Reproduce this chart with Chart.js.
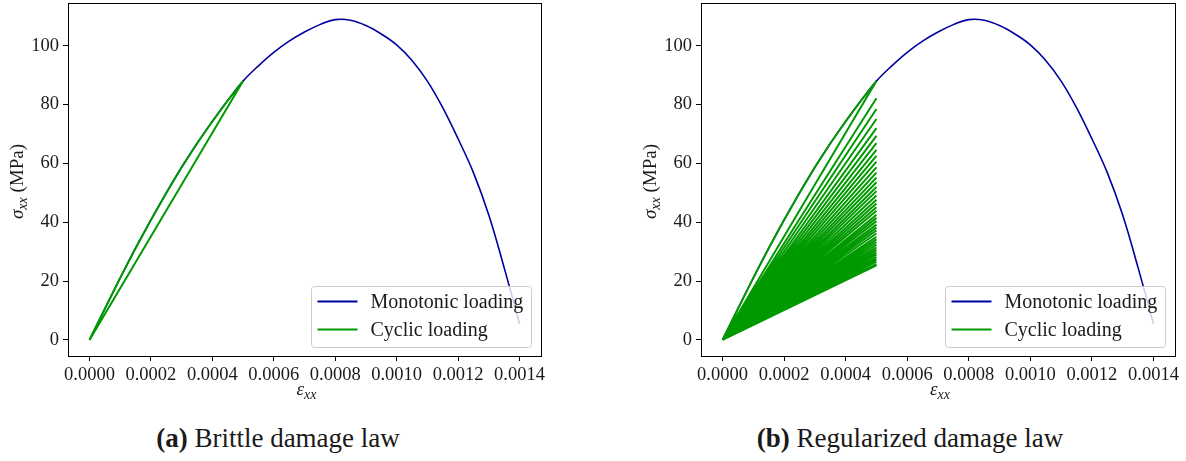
<!DOCTYPE html>
<html>
<head>
<meta charset="utf-8">
<script src="https://cdn.jsdelivr.net/npm/chart.js@4.4.1/dist/chart.umd.min.js"></script>
<style>
  body { margin: 0; background: #fff; width: 1186px; height: 461px; position: relative; overflow: hidden; font-family: "Liberation Serif", serif; }
  .panel { position: absolute; top: 0; }
  .cap { position: absolute; top: 425px; font-size: 27px; line-height: 1; color: #1a1a1a; white-space: nowrap; transform: translateX(-50%); }
</style>
</head>
<body>
<div class="panel" style="left:0px"><canvas id="chart-a" width="560" height="410"></canvas></div>
<div class="panel" style="left:630px"><canvas id="chart-b" width="556" height="410"></canvas></div>
<div class="cap" style="left:278px"><b>(a)</b> Brittle damage law</div>
<div class="cap" style="left:910px"><b>(b)</b> Regularized damage law</div>

<script>
  // Courbe monotone (deformation / contrainte en MPa)
  const strain = [0, 0.00005, 0.0001, 0.00015, 0.0002, 0.00025, 0.0003, 0.00035, 0.0004, 0.00045,
    0.0005, 0.00055, 0.0006, 0.00065, 0.0007, 0.00075, 0.0008, 0.00085, 0.0009, 0.00095,
    0.001, 0.00105, 0.0011, 0.00115, 0.0012, 0.00125, 0.0013, 0.00135, 0.0014];
  const stressMono = [0, 10.6, 21.1, 31.2, 40.8, 50.0, 58.7, 66.8, 74.3, 81.4,
    88.0, 93.2, 97.8, 101.6, 104.7, 107.2, 108.9, 108.7, 106.9, 104.0,
    100.3, 95.0, 88.0, 79.0, 68.4, 56.9, 42.5, 24.6, 5.5];

  // Cycles : deformation max et contraintes atteintes a chaque cycle
  const unloadStrain = 0.0005;
  const peaksBrittle = [88.0, 88.0, 88.0, 88.0];
  const peaksRegular = [82.2, 78.5, 75.1, 72.0, 69.4, 66.9, 64.6, 62.6, 60.6, 58.7,
    56.9, 55.2, 53.6, 52.0, 50.6, 49.1, 47.7, 46.4, 45.1, 43.9,
    42.6, 41.5, 40.4, 39.2, 38.2, 37.2, 36.2, 35.1, 34.2, 33.3,
    32.4, 31.5, 30.6, 29.8, 29.0, 28.2, 27.4, 26.6, 25.8, 25.4];

  const xTicks = [0, 0.0002, 0.0004, 0.0006, 0.0008, 0.001, 0.0012, 0.0014];
  const yTicks = [0, 20, 40, 60, 80, 100];
  const seriesNames = ['Monotonic loading', 'Cyclic loading'];

  const BLUE = '#0000a0';
  const GREEN = '#009900';
  const SERIF = "'Liberation Serif', 'DejaVu Serif', serif";

  function cyclicPath(peaks) {
    const pts = [];
    for (let i = 0; i < strain.length && strain[i] <= unloadStrain + 1e-12; i++) {
      pts.push({ x: strain[i], y: stressMono[i] });
    }
    for (const p of peaks) {
      pts.push({ x: 0, y: 0 });
      pts.push({ x: unloadStrain, y: p });
    }
    pts.push({ x: 0, y: 0 });
    return pts;
  }

  // legende, cadre et titres des axes
  const decor = {
    id: 'decor',
    afterDatasetsDraw(chart) {
      const ctx = chart.ctx, a = chart.chartArea;
      const w = 220, h = 61;
      const x0 = Math.round(a.right - 10 - w) + 0.5, y0 = Math.round(a.bottom - 9 - h) + 0.5;
      ctx.save();
      ctx.beginPath();
      ctx.roundRect(x0, y0, w, h, 3);
      ctx.fillStyle = 'rgba(255,255,255,0.8)';
      ctx.fill();
      ctx.strokeStyle = '#cccccc';
      ctx.lineWidth = 1;
      ctx.stroke();
      const rows = [[seriesNames[0], BLUE, y0 + 15], [seriesNames[1], GREEN, y0 + 43]];
      ctx.font = '20px ' + SERIF;
      ctx.textBaseline = 'middle';
      for (const [label, col, y] of rows) {
        ctx.beginPath();
        ctx.moveTo(x0 + 6, y);
        ctx.lineTo(x0 + 46, y);
        ctx.strokeStyle = col;
        ctx.lineWidth = 1.8;
        ctx.stroke();
        ctx.fillStyle = '#1a1a1a';
        ctx.fillText(label, x0 + 59, y + 1);
      }
      ctx.restore();
    },
    afterDraw(chart) {
      const ctx = chart.ctx, a = chart.chartArea;
      ctx.save();
      ctx.strokeStyle = '#000';
      ctx.lineWidth = 1;
      ctx.strokeRect(Math.round(a.left) + 0.5, Math.round(a.top) + 0.5,
        Math.round(a.right - a.left), Math.round(a.bottom - a.top));

      ctx.fillStyle = '#1a1a1a';
      ctx.textBaseline = 'alphabetic';
      // x : eps_xx
      const cx = (a.left + a.right) / 2 + 2;
      ctx.font = 'italic 19px ' + SERIF;
      const wEps = ctx.measureText('ε').width;
      ctx.font = 'italic 14px ' + SERIF;
      const wSub = ctx.measureText('xx').width;
      let x = cx - (wEps + wSub) / 2;
      ctx.font = 'italic 19px ' + SERIF;
      ctx.fillText('ε', x, 395);
      ctx.font = 'italic 14px ' + SERIF;
      ctx.fillText('xx', x + wEps, 399);

      // y : sigma_xx (MPa)
      ctx.translate(a.left - 45, (a.top + a.bottom) / 2 + 2);
      ctx.rotate(-Math.PI / 2);
      ctx.font = 'italic 19px ' + SERIF;
      const wSig = ctx.measureText('σ').width;
      ctx.font = 'italic 14px ' + SERIF;
      const wS2 = ctx.measureText('xx').width;
      ctx.font = '19px ' + SERIF;
      const wUnit = ctx.measureText(' (MPa)').width;
      x = -(wSig + wS2 + wUnit) / 2;
      ctx.font = 'italic 19px ' + SERIF;
      ctx.fillText('σ', x, 0);
      ctx.font = 'italic 14px ' + SERIF;
      ctx.fillText('xx', x + wSig, 4);
      ctx.font = '19px ' + SERIF;
      ctx.fillText(' (MPa)', x + wSig + wS2, 0);
      ctx.restore();
    }
  };

  function makeChart(id, peaks, yAxisWidth, padRight) {
    const ctx = document.getElementById(id);
    return new Chart(ctx, {
      type: 'scatter',
      data: {
        datasets: [
          {
            label: seriesNames[0],
            data: strain.map((e, i) => ({ x: e, y: stressMono[i] })),
            showLine: true,
            borderColor: BLUE,
            borderWidth: 1.6,
            pointRadius: 0,
            tension: 0.4,
            order: 2
          },
          {
            label: seriesNames[1],
            data: cyclicPath(peaks),
            showLine: true,
            borderColor: GREEN,
            borderWidth: 2,
            pointRadius: 0,
            tension: 0,
            order: 1
          }
        ]
      },
      options: {
        responsive: false,
        animation: false,
        layout: { padding: { left: 0, right: padRight, top: 3, bottom: 0 } },
        plugins: { legend: { display: false }, tooltip: { enabled: false } },
        scales: {
          x: {
            type: 'linear',
            min: -0.00007,
            max: 0.00147,
            afterFit: s => { s.height = 54; s.paddingLeft = 0; s.paddingRight = 0; },
            afterBuildTicks: s => { s.ticks = xTicks.map(v => ({ value: v })); },
            ticks: {
              color: '#1a1a1a',
              font: { family: SERIF, size: 18.5 },
              padding: 3,
              maxRotation: 0,
              callback: v => v.toFixed(4)
            },
            grid: { drawOnChartArea: false, drawTicks: true, tickLength: 5, tickColor: '#000' },
            border: { display: false }
          },
          y: {
            type: 'linear',
            min: -5.45,
            max: 114.55,
            afterFit: s => { s.width = yAxisWidth; s.paddingTop = 0; s.paddingBottom = 0; },
            afterBuildTicks: s => { s.ticks = yTicks.map(v => ({ value: v })); },
            ticks: {
              color: '#1a1a1a',
              font: { family: SERIF, size: 18.5 },
              padding: 4,
              callback: v => String(v)
            },
            grid: { drawOnChartArea: false, drawTicks: true, tickLength: 5, tickColor: '#000' },
            border: { display: false }
          }
        }
      },
      plugins: [decor]
    });
  }

  // on attend la police avant de dessiner
  Promise.all([
    document.fonts.load("19px 'Liberation Serif'"),
    document.fonts.load("italic 19px 'Liberation Serif'")
  ]).catch(() => {}).then(() => {
    makeChart('chart-a', peaksBrittle, 68, 19);
    makeChart('chart-b', peaksRegular, 71, 11);
  });
</script>
</body>
</html>
